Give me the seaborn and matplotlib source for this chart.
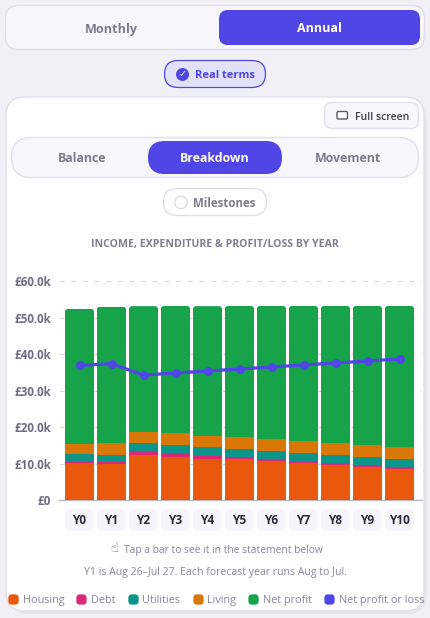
import matplotlib
matplotlib.use("Agg")
import matplotlib.pyplot as plt
import seaborn as sns
from matplotlib.lines import Line2D
from matplotlib.patches import BoxStyle, Circle, FancyBboxPatch
from matplotlib.transforms import IdentityTransform

years = ["Y0", "Y1", "Y2", "Y3", "Y4", "Y5", "Y6", "Y7", "Y8", "Y9", "Y10"]
housing = [10.25, 10.0, 12.5, 12.0, 11.4, 11.25, 10.7, 10.15, 9.6, 9.05, 8.5]
debt = [0.27, 0.55, 0.9, 0.9, 0.9, 0.55, 0.55, 0.55, 0.55, 0.55, 0.55]
utilities = [2.2, 2.0, 2.37, 2.37, 2.37, 2.37, 2.37, 2.37, 2.37, 2.37, 2.37]
living = [2.74, 3.1, 3.1, 3.1, 3.1, 3.1, 3.1, 3.1, 3.1, 3.1, 3.1]
net_profit = [37.0, 37.45, 34.35, 34.9, 35.45, 36.0, 36.55, 37.1, 37.65, 38.2, 38.75]
y_ticks = [0, 10, 20, 30, 40, 50, 60]
y_labels = ["£0", "£10.0k", "£20.0k", "£30.0k", "£40.0k", "£50.0k", "£60.0k"]
series_names = ["Housing", "Debt", "Utilities", "Living", "Net profit"]
series_values = [housing, debt, utilities, living, net_profit]
series_colors = ["#ea580c", "#db2777", "#0d9488", "#d97706", "#16a34a"]

W, H = 430, 618
INDIGO = "#4f46e5"
GREY = "#7d7c8f"
BORDER = "#e1dfec"
TOGGLE = "#f8f7fd"

sns.set_theme(style="white")
plt.rcParams["font.family"] = ["Open Sans", "DejaVu Sans"]

fig = plt.figure(figsize=(W / 100, H / 100), dpi=100, facecolor="#f1f0f7")

# page furniture, in pixel coordinates
ui = fig.add_axes([0, 0, 1, 1], zorder=0)
ui.set_xlim(0, W)
ui.set_ylim(H, 0)
ui.axis("off")


def box(x0, y0, x1, y1, r, fc, ec="none", lw=1.0):
    ui.add_patch(
        FancyBboxPatch(
            (x0, y0),
            x1 - x0,
            y1 - y0,
            boxstyle=BoxStyle.Round(pad=0, rounding_size=r),
            fc=fc,
            ec=ec,
            lw=lw,
        )
    )


def label(x, y, s, color=GREY, size=9.1, weight="bold", ha="center"):
    ui.text(x, y + 1, s, color=color, fontsize=size, fontweight=weight, ha=ha, va="center")


box(5.5, 5.5, 424.5, 49.5, 13, TOGGLE, BORDER)
box(219, 10, 420, 45, 9, INDIGO)
label(111, 28, "Monthly")
label(319.5, 28, "Annual", color="white", size=9)

box(164.5, 60.5, 265.5, 87.5, 13.5, "#e2e1f8", INDIGO, 0.9)
ui.add_patch(Circle((182.5, 74.5), 6.5, fc=INDIGO, ec="none"))
ui.text(182.5, 74.5, "✓", color="white", fontsize=7, fontweight="bold", ha="center", va="center",
        family="DejaVu Sans")
label(225, 74.5, "Real terms", color=INDIGO, size=8)

# card with its soft shadow
box(9, 100, 427, 614, 20, "#e7e6ef")
box(6, 97, 424, 611, 19, "white", BORDER)

box(324.5, 102.5, 418.5, 128.5, 8, TOGGLE, BORDER)
box(337, 111.5, 347.5, 119, 1.5, "white", "#5a5a6e", 1.0)
label(382, 116, "Full screen", color="#3f3f50", size=7.6, weight="semibold")

box(11.5, 137.5, 418.5, 177.5, 20, TOGGLE, BORDER)
box(148, 141, 282, 174, 16.5, INDIGO)
label(82, 158, "Balance", size=8.9)
label(215, 158, "Breakdown", color="white", size=8.9)
label(348.5, 158, "Movement", size=8.9)

box(163.5, 188.5, 266.5, 215.5, 13.5, "white", BORDER)
ui.add_patch(Circle((181, 202.5), 6.2, fc="white", ec="#dcdbe6", lw=1))
label(224.5, 202.5, "Milestones", size=8.3)

label(215, 243, "INCOME, EXPENDITURE & PROFIT/LOSS BY YEAR", color="#7f7e90", size=7.6)

# x label chips sit behind the tick labels
for i in range(len(years)):
    cx = 79.5 + 32 * i
    box(cx - 14.5, 509, cx + 14.5, 531, 6, "#f6f5fc")

ui.text(118, 549, "☝", color="#66657a", fontsize=9, fontweight="bold", ha="right", va="center",
        family="DejaVu Sans")
label(223, 549, "Tap a bar to see it in the statement below", color="#88879a", size=7.4,
      weight="normal")
label(215, 572, "Y1 is Aug 26–Jul 27. Each forecast year runs Aug to Jul.", color="#88879a",
      size=7.55, weight="normal")

# chart
px_per_k = 3.65
y_top = 61
ax = fig.add_axes(
    [59 / W, 1 - 500.4 / H, (422 - 59) / W, px_per_k * y_top / H], zorder=1, facecolor="none"
)

bottom = [0.0] * len(years)
for name, values, color in zip(series_names, series_values, series_colors):
    sns.barplot(x=years, y=values, bottom=bottom, color=color, saturation=1, width=29 / 32,
                linewidth=0, zorder=3, ax=ax)
    bottom = [b + v for b, v in zip(bottom, values)]

sns.lineplot(x=years, y=net_profit, color=INDIGO, linewidth=2.3, marker="o", markersize=6.4,
             markeredgewidth=0, sort=False, errorbar=None, zorder=5, ax=ax)

ax.set_xlim((59 - 79.5) / 32, (422 - 79.5) / 32)
ax.set_ylim(0, y_top)
ax.set_yticks(y_ticks, y_labels)
ax.set_xlabel("")
ax.set_ylabel("")
ax.tick_params(axis="y", length=0, pad=5.8, labelsize=8.4, labelcolor="#6d6c84")
ax.tick_params(axis="x", length=0, pad=10, labelsize=8.6, labelcolor="#2c2b3c")
for t in ax.get_xticklabels() + ax.get_yticklabels():
    t.set_fontweight("bold")
ax.grid(axis="y", color="#d9d9de", linewidth=0.8, linestyle=(0, (4.5, 6)), zorder=0)
ax.set_axisbelow(True)
for side in ["top", "left", "right"]:
    ax.spines[side].set_visible(False)
ax.spines["bottom"].set_color("#b9b8c6")
ax.spines["bottom"].set_linewidth(1)

# rounded tops on the net profit bars
for bar in ax.patches[-len(years):]:
    (x0, y0), (x1, y1) = ax.transData.transform(
        [(bar.get_x(), bar.get_y()), (bar.get_x() + bar.get_width(), bar.get_y() + bar.get_height())]
    )
    clip = FancyBboxPatch((x0, y0 - 20), x1 - x0, y1 - y0 + 20,
                          boxstyle=BoxStyle.Round(pad=0, rounding_size=3),
                          transform=IdentityTransform())
    bar.set_clip_path(clip)

# legend
swatch = BoxStyle.Round(pad=0, rounding_size=0.35)(-0.5, -0.5, 1, 1, 1)
handles = [
    Line2D([], [], linestyle="none", marker=swatch, markersize=7.4, markerfacecolor=c,
           markeredgewidth=0)
    for c in series_colors + [INDIGO]
]
leg = fig.legend(
    handles,
    series_names + ["Net profit or loss"],
    ncol=6,
    loc="center left",
    bbox_to_anchor=(8 / W, 1 - 600.5 / H),
    frameon=False,
    fontsize=7.8,
    labelcolor="#88879a",
    handlelength=0.9,
    handletextpad=0.45,
    columnspacing=1.13,
    borderpad=0,
    borderaxespad=0,
)

fig.savefig("out.png", dpi=100, facecolor=fig.get_facecolor())
